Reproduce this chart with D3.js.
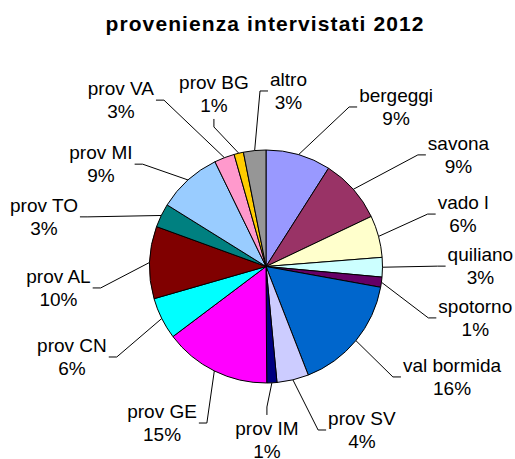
<!DOCTYPE html>
<html>
<head>
<meta charset="utf-8">
<script src="https://cdn.jsdelivr.net/npm/d3@7"></script>
<style>
    body { margin: 0; background: #fff; }
    text { font-family: "Liberation Sans", Arial, sans-serif; fill: #000; }
</style>
</head>
<body>
<div id="chart"></div>
<script>
var categories = ["bergeggi", "savona", "vado l", "quiliano", "spotorno", "val bormida", "prov SV", "prov IM",
    "prov GE", "prov CN", "prov AL", "prov TO", "prov MI", "prov VA", "prov BG", "altro"];
var shares = [9.0, 8.9, 5.8, 2.7, 1.4, 16.2, 4.4, 1.4, 14.8, 5.8, 10.0, 3.3, 8.9, 2.8, 1.3, 3.1];
var sliceColors = ["#9999FF", "#993366", "#FFFFCC", "#CCFFFF", "#660066", "#0066CC", "#CCCCFF", "#000080",
    "#FF00FF", "#00FFFF", "#800000", "#008080", "#99CCFF", "#FF99CC", "#FFCC00", "#969696"];

// labels were dragged by hand in the original: [angle in degrees, distance in pie radii]
var labelPlacement = [[39.2, 1.767], [59.9, 1.91], [75.1, 1.75], [89.9, 1.84], [103.8, 1.85], [120.7, 1.857],
    [149.6, 1.627], [179.7, 1.489], [213.6, 1.613], [245.0, 1.838], [264.1, 1.791], [282.6, 1.953],
    [301.8, 1.667], [318.9, 1.895], [343.2, 1.547], [7.3, 1.519]];

var w = 515,
    h = 459,
    cx = 266,
    cy = 266.5,
    radius = 116.5;

var svg = d3.select("#chart")
    .append("svg")
    .attr("width", w)
    .attr("height", h);

svg.append("text")
    .attr("x", 265)
    .attr("y", 31)
    .attr("text-anchor", "middle")
    .attr("font-size", "21px")
    .attr("font-weight", "bold")
    .attr("letter-spacing", "1.1px")
    .text("provenienza intervistati 2012");

var total = d3.sum(shares);
var data = categories.map(function (c, i) {
    return { name: c, value: shares[i], color: sliceColors[i], place: labelPlacement[i] };
});

var pie = d3.pie()
    .sort(null)
    .value(function (d) { return d.value; });

var arc = d3.arc()
    .innerRadius(0)
    .outerRadius(radius);

var edgeArc = d3.arc()
    .innerRadius(radius)
    .outerRadius(radius);

var g = svg.append("g")
    .attr("transform", "translate(" + cx + "," + cy + ")");

var slices = pie(data);

g.selectAll(".slice")
    .data(slices)
    .enter()
    .append("path")
    .attr("class", "slice")
    .attr("d", arc)
    .attr("fill", function (d) { return d.data.color; })
    .attr("stroke", "#000")
    .attr("stroke-width", 1)
    .attr("stroke-linejoin", "round");

var labels = g.selectAll(".label")
    .data(slices)
    .enter()
    .append("text")
    .attr("class", "label")
    .attr("font-size", "19px")
    .attr("text-anchor", "middle")
    .each(function (d) {
        var a = d.data.place[0] * Math.PI / 180,
            r = d.data.place[1] * radius;
        d.lx = r * Math.sin(a);
        d.ly = -r * Math.cos(a);
    });

labels.append("tspan")
    .attr("x", function (d) { return d.lx; })
    .attr("y", function (d) { return d.ly - 5; })
    .text(function (d) { return d.data.name; });

labels.append("tspan")
    .attr("x", function (d) { return d.lx; })
    .attr("y", function (d) { return d.ly + 18; })
    .text(function (d) { return Math.round(d.data.value / total * 100) + "%"; });

// leader line from the slice edge to the nearest side of the label box
var tick = 8, pad = 2, halfH = 25;
labels.each(function (d) {
    var tw = d3.max(d3.select(this).selectAll("tspan").nodes(), function (n) { return n.getComputedTextLength(); });
    var left = d.lx - tw / 2 - pad,
        right = d.lx + tw / 2 + pad,
        top = d.ly - halfH,
        bottom = d.ly + halfH;
    var p = edgeArc.centroid(d);
    var end, elbow;
    if (p[0] < left) {
        end = [left, d.ly]; elbow = [left - tick, d.ly];
    } else if (p[0] > right) {
        end = [right, d.ly]; elbow = [right + tick, d.ly];
    } else if (p[1] < top) {
        end = [d.lx, top]; elbow = [d.lx, top - tick];
    } else {
        end = [d.lx, bottom]; elbow = [d.lx, bottom + tick];
    }
    g.append("path")
        .attr("d", d3.line()([p, elbow, end]))
        .attr("fill", "none")
        .attr("stroke", "#000")
        .attr("stroke-width", 1);
});
</script>
</body>
</html>
